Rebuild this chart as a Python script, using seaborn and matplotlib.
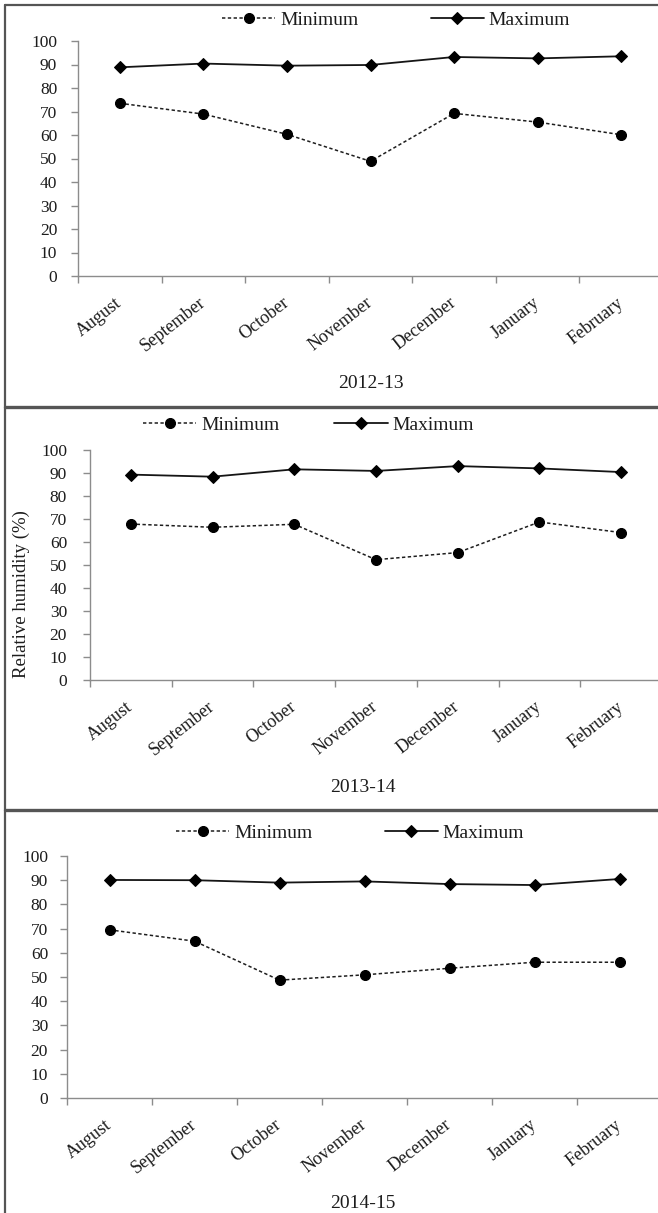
import numpy as np
import pandas as pd
import matplotlib
matplotlib.use("Agg")
import matplotlib.pyplot as plt
import seaborn as sns
from matplotlib.lines import Line2D
from matplotlib.ticker import NullFormatter

# ---- data -------------------------------------------------------------
months = ["August", "September", "October", "November", "December",
          "January", "February"]
seasons = ["2012-13", "2013-14", "2014-15"]

rh_min_2012 = [73.5, 68.9, 60.3, 48.8, 69.2, 65.5, 60.1]
rh_max_2012 = [88.8, 90.4, 89.5, 89.8, 93.2, 92.6, 93.5]

rh_min_2013 = [67.8, 66.4, 67.7, 52.3, 55.4, 68.7, 64.1]
rh_max_2013 = [89.3, 88.4, 91.6, 90.9, 93.0, 92.0, 90.4]

rh_min_2014 = [69.5, 64.8, 48.7, 50.9, 53.6, 56.1, 56.1]
rh_max_2014 = [90.1, 90.0, 89.0, 89.5, 88.4, 88.0, 90.5]

series_labels = ["Minimum", "Maximum"]
y_ticks = list(range(0, 101, 10))
y_label = "Relative humidity (%)"

# ---- layout (pixels on a 658 x 1213 canvas) ---------------------------
W, H = 658, 1213
# axes box: left, top (y=100), right, bottom (y=0)
axes_px = [(78, 41, 663, 276), (90, 450, 662, 680), (67, 856, 662, 1098)]
ytick_pad = [10, 11.5, 8.6]
legend_px = [(222, 20, 3.7), (143, 425, 2.8), (176, 833, 3.7)]
xlabel_px = [(371, 383), (363, 788), (363, 1203)]

sns.set_theme(style="white")
plt.rcParams["font.family"] = ["Liberation Serif", "DejaVu Serif"]
plt.rcParams["text.color"] = "#1c1c1c"

fig = plt.figure(figsize=(W / 100, H / 100), dpi=100)
fig.patch.set_facecolor("white")

panel_data = [(rh_min_2012, rh_max_2012),
              (rh_min_2013, rh_max_2013),
              (rh_min_2014, rh_max_2014)]

axis_grey = "#8c8c8c"
text_col = "#1c1c1c"

for i, (season, (mins, maxs)) in enumerate(zip(seasons, panel_data)):
    l, t, r, b = axes_px[i]
    ax = fig.add_axes([l / W, 1 - b / H, (r - l) / W, (b - t) / H])
    ax.set_facecolor("white")

    df_min = pd.DataFrame({"month": months, "rh": mins})
    df_max = pd.DataFrame({"month": months, "rh": maxs})

    sns.lineplot(data=df_min, x="month", y="rh", ax=ax, sort=False,
                 color="#1e1e1e", linewidth=1.1, linestyle=(0, (2.2, 1.6)),
                 marker="o", markersize=7.2, markeredgecolor="black",
                 markerfacecolor="black", legend=False)
    sns.lineplot(data=df_max, x="month", y="rh", ax=ax, sort=False,
                 color="#151515", linewidth=1.3, linestyle="-",
                 marker="D", markersize=6.0, markeredgecolor="black",
                 markerfacecolor="black", legend=False)

    ax.set_xlim(-0.5, len(months) - 0.5)
    ax.set_ylim(0, 100)
    ax.set_yticks(y_ticks)
    ax.set_yticklabels([str(v) for v in y_ticks])

    # ticks at category boundaries, labels at category centres
    ax.set_xticks(np.arange(-0.5, len(months), 1.0))
    ax.xaxis.set_major_formatter(NullFormatter())
    ax.set_xticks(np.arange(len(months)), minor=True)
    ax.set_xticklabels(months, minor=True)

    ax.tick_params(axis="x", which="major", length=5, width=1,
                   color=axis_grey, direction="out", bottom=True)
    ax.tick_params(axis="x", which="minor", length=0, pad=18,
                   labelsize=13, labelcolor=text_col, bottom=True)
    ax.tick_params(axis="y", which="major", length=5, width=1,
                   color=axis_grey, direction="out", left=True,
                   labelsize=12.5, labelcolor=text_col, pad=ytick_pad[i])
    for lab in ax.get_xticklabels(minor=True):
        lab.set_rotation(38)
        lab.set_ha("right")
        lab.set_va("center")
        lab.set_rotation_mode("anchor")

    for side in ("top", "right"):
        ax.spines[side].set_visible(False)
    for side in ("left", "bottom"):
        ax.spines[side].set_color(axis_grey)
        ax.spines[side].set_linewidth(1.0)

    # season label under the month names
    xl, yl = xlabel_px[i]
    ax.set_xlabel(season, fontsize=14, color=text_col)
    ax.xaxis.set_label_coords((xl - l) / (r - l), (b - yl) / (b - t))
    ax.xaxis.label.set_va("center")

    if i == 1:
        ax.set_ylabel(y_label, fontsize=13.5, color=text_col)
        ax.yaxis.set_label_coords((21 - l) / (r - l), (b - 594) / (b - t))
        ax.yaxis.label.set_va("center")
    else:
        ax.set_ylabel("")

    lx, ly, colsp = legend_px[i]
    handles = ax.get_lines()[:2]
    ax.legend(handles=handles, labels=series_labels, ncol=2, frameon=False,
              loc="center left", bbox_to_anchor=(lx / W, 1 - ly / H),
              bbox_transform=fig.transFigure, fontsize=14,
              handlelength=2.75, handletextpad=0.25, columnspacing=colsp,
              borderpad=0, borderaxespad=0, labelcolor=text_col)

# panel frames
frame_col = "#555555"
fig.add_artist(Line2D([5 / W, 5 / W], [1 - 5 / H, 0], transform=fig.transFigure,
                      color=frame_col, linewidth=1.6))
fig.add_artist(Line2D([5 / W, 1], [1 - 5 / H, 1 - 5 / H], transform=fig.transFigure,
                      color=frame_col, linewidth=1.6))
for ysep in (407, 810):
    fig.add_artist(Line2D([5 / W, 1], [1 - ysep / H, 1 - ysep / H],
                          transform=fig.transFigure, color=frame_col,
                          linewidth=2.4))

fig.savefig("out.png", dpi=100, facecolor="white")
